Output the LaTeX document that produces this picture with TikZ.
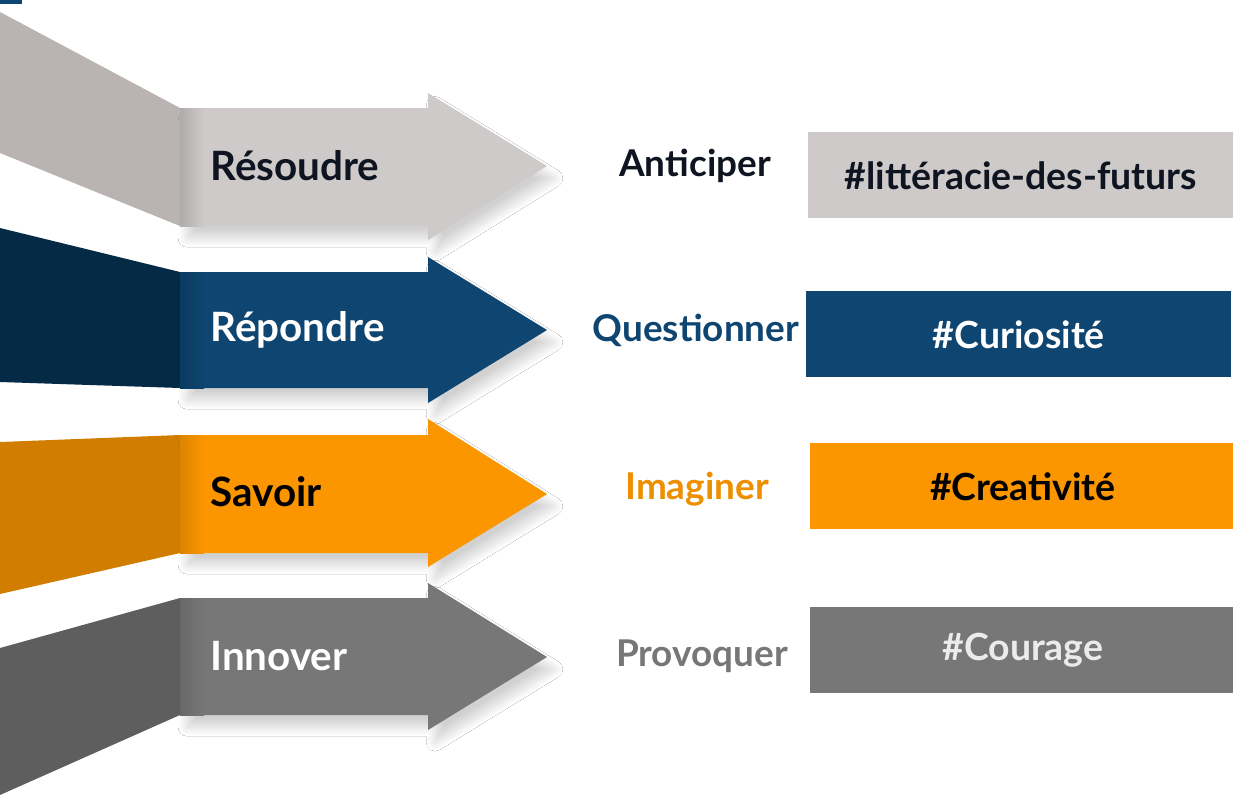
\documentclass[tikz,border=0pt]{standalone}
\usepackage{fontspec}
\setmainfont{Lato}
\usepackage{xcolor}
\definecolor{paleBody}{RGB}{206,202,202}
\definecolor{paleTail}{RGB}{185,179,177}
\definecolor{navyBody}{RGB}{14,69,113}
\definecolor{navyTail}{RGB}{5,42,70}
\definecolor{amberBody}{RGB}{251,150,0}
\definecolor{amberTail}{RGB}{208,125,0}
\definecolor{slateBody}{RGB}{119,119,119}
\definecolor{slateTail}{RGB}{94,94,94}
\definecolor{inkDark}{RGB}{14,20,32}
\usepackage{tikz}
\usetikzlibrary{calc,positioning,shadows.blur}

\begin{document}
\begin{tikzpicture}[x=0.02cm,y=-0.02cm,
    arrowshape/.style={blur shadow={shadow xshift=4pt,shadow yshift=-7pt,shadow blur radius=5pt,shadow blur steps=25,shadow blur extra rounding=0pt,shadow opacity=18}},
    arrowtext/.style={anchor=west,inner sep=0pt,font=\fontsize{23}{26}\selectfont\bfseries},
    verb/.style={font=\fontsize{21}{24}\selectfont\bfseries},
    tagbox/.style={anchor=north west,minimum width=8.5cm,minimum height=1.72cm,inner sep=0pt,font=\fontsize{21.3}{24}\selectfont\bfseries}]
    % Frame
    \useasboundingbox (0,0) rectangle (1233,795);
    \fill[white] (0,0) rectangle (1233,795);
    % Corner mark
    \fill[navyBody] (0,0) rectangle (22,4);
    % Arrow 1
    \fill[paleTail] (0,12) -- (180,108) -- (180,226) -- (0,153) -- cycle;
    \fill[paleBody,arrowshape] (180,108) -- (428,108) -- (428,93) -- (547,166) -- (428,240) -- (428,226) -- (180,226) -- cycle;
    \shade[left color=paleBody!85!black,right color=paleBody] (180,108) rectangle (204,226);
    % Arrow 2
    \fill[navyTail] (0,228) -- (180,272) -- (180,388) -- (0,382) -- cycle;
    \fill[navyBody,arrowshape] (180,272) -- (428,272) -- (428,257) -- (547,330) -- (428,403) -- (428,388) -- (180,388) -- cycle;
    \shade[left color=navyBody!85!black,right color=navyBody] (180,272) rectangle (204,388);
    % Arrow 3
    \fill[amberTail] (0,442) -- (180,435) -- (180,553) -- (0,594) -- cycle;
    \fill[amberBody,arrowshape] (180,435) -- (428,435) -- (428,419) -- (547,494) -- (428,567) -- (428,553) -- (180,553) -- cycle;
    \shade[left color=amberBody!88!black,right color=amberBody] (180,435) rectangle (204,553);
    % Arrow 4
    \fill[slateTail] (0,648) -- (180,598) -- (180,715) -- (0,795) -- cycle;
    \fill[slateBody,arrowshape] (180,598) -- (428,598) -- (428,583) -- (547,657) -- (428,730) -- (428,715) -- (180,715) -- cycle;
    \shade[left color=slateBody!88!black,right color=slateBody] (180,598) rectangle (204,715);
    % Arrow labels
    \node[arrowtext,text=inkDark] (resoudre) at (210,166) {Résoudre};
    \node[arrowtext,text=white] (repondre) at (210,330) {Répondre};
    \node[arrowtext,text=black] (savoir) at (210,492) {Savoir};
    \node[arrowtext,text=white] (innover) at (210,656) {Innover};
    % Verbs
    \node[verb,text=inkDark] (anticiper) at (695,166) {Anticiper};
    \node[verb,text=navyBody] (questionner) at (696,330) {Questionner};
    \node[verb,text=amberBody!95!black] (imaginer) at (697,489) {Imaginer};
    \node[verb,text=slateBody] (provoquer) at (702,656) {Provoquer};
    % Hashtag boxes
    \node[tagbox,fill=paleBody,text=inkDark] (litteracie) at (808,132) {\#littéracie-des-futurs};
    \node[tagbox,fill=navyBody,text=white] (curiosite) at (806,291) {\#Curiosité};
    \node[tagbox,fill=amberBody,text=black] (creativite) at (810,443) {\#Creativité};
    \node[tagbox,fill=slateBody,text=white!92!black] (courage) at (810,607) {\#Courage};
\end{tikzpicture}
\end{document}
